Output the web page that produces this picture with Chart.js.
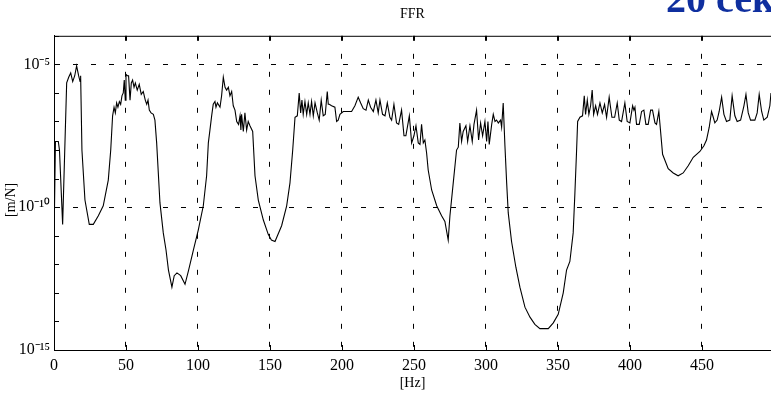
<!DOCTYPE html>
<html lang="en">

<head>
    <meta charset="UTF-8">
    <title>FRF</title>
    <script src="https://cdn.jsdelivr.net/npm/chart.js"></script>
    <style>
        body {
            margin: 0;
            background: #FFFFFF;
            overflow: hidden;
        }

        .holder {
            position: relative;
            width: 771px;
            height: 398px;
            overflow: hidden;
        }

        #stamp {
            position: absolute;
            left: 666px;
            top: -21px;
            font: bold 40px 'Liberation Serif', serif;
            line-height: 40px;
            color: #0F2F9F;
            white-space: nowrap;
        }
    </style>
</head>

<body>
    <div class="holder">
        <canvas id="frfChart" width="771" height="398"></canvas>
        <div id="stamp">20 сек</div>
    </div>

    <script>
        // frequency axis [Hz]
        const freqHz = [
            0.3, 1.0, 3.0, 3.8, 6.0, 8.8, 10.2, 11.6, 13.0, 14.4, 15.7, 17.1, 18.1, 18.5, 19.4, 21.5, 24.5, 27.3, 30.8, 34.2,
            37.7, 39.4, 40.7, 41.7, 42.6, 43.5, 44.4, 45.4, 46.3, 47.2, 48.1, 48.8, 49.5, 50.0, 50.9, 51.8, 52.8, 53.7, 54.6, 55.6,
            56.5, 57.8, 59.2, 60.6, 62.0, 63.4, 64.4, 65.3, 66.2, 67.4, 69.0, 70.1, 71.3, 73.6, 75.9, 77.8, 79.5, 81.9, 83.5, 85.4,
            88.0, 91.0, 93.5, 96.8, 100.2, 103.7, 106.0, 107.2, 108.3, 109.5, 110.6, 111.8, 112.5, 113.5, 115.3, 116.4, 117.6, 118.8, 119.9, 121.1,
            122.2, 123.4, 124.5, 125.7, 126.9, 128.2, 129.2, 129.8, 130.3, 131.5, 132.6, 133.8, 134.9, 136.1, 138.0, 139.6, 141.9, 145.4, 148.8, 151.0,
            153.5, 158.1, 161.6, 163.9, 165.8, 167.4, 169.0, 170.3, 171.3, 172.2, 173.1, 174.3, 175.5, 176.6, 177.8, 178.9, 180.1, 181.3, 182.9, 184.2,
            185.6, 187.0, 188.4, 189.8, 190.5, 191.2, 192.8, 195.1, 196.3, 197.4, 198.6, 200.9, 203.3, 206.7, 209.0, 211.3, 213.0, 214.8, 216.7, 218.3,
            219.9, 221.8, 223.6, 225.2, 226.4, 228.2, 229.9, 231.5, 233.3, 234.5, 236.1, 237.9, 239.4, 241.4, 243.1, 244.4, 246.8, 248.4, 250.0, 251.4,
            253.0, 254.2, 255.3, 256.5, 257.6, 258.8, 259.9, 262.3, 265.8, 269.2, 271.5, 273.8, 275.0, 277.3, 279.6, 280.8, 281.9, 283.1, 284.2, 286.1,
            287.3, 288.9, 290.5, 291.7, 293.5, 294.9, 296.3, 297.7, 299.3, 300.5, 301.4, 302.3, 304.0, 305.1, 306.3, 307.4, 308.6, 310.2, 310.9, 312.0,
            313.2, 314.4, 315.5, 317.8, 320.8, 323.6, 327.1, 330.6, 334.0, 337.5, 343.3, 346.8, 350.2, 353.7, 356.0, 358.3, 360.6, 361.8, 362.9, 363.7,
            365.3, 367.1, 368.3, 369.2, 370.4, 371.5, 372.7, 373.8, 374.8, 376.2, 377.5, 379.2, 380.8, 382.4, 383.8, 385.6, 387.5, 389.4, 391.2, 392.6,
            394.2, 396.5, 398.1, 400.0, 401.9, 402.8, 403.5, 404.6, 406.5, 408.1, 409.7, 411.1, 412.7, 414.4, 415.7, 417.4, 418.5, 420.1, 420.8, 422.7,
            426.6, 430.1, 433.5, 437.0, 440.5, 444.0, 448.6, 451.4, 453.2, 455.1, 456.7, 457.9, 459.0, 460.6, 462.0, 463.7, 465.3, 467.1, 469.4, 471.0,
            472.9, 474.5, 476.9, 479.2, 480.6, 482.2, 483.8, 486.8, 488.4, 489.8, 491.5, 493.0, 495.4, 497.2, 498.0
        ];

        // receptance magnitude [m/N]
        const respMN = [
            6.3e-11, 2.0e-8, 2.0e-8, 1e-8, 2.5e-11, 2.24e-6, 3.55e-6, 5.0e-6, 2.5e-6, 4.0e-6, 8.9e-6, 4.0e-6, 2.5e-6, 4.0e-6, 1e-8, 1.78e-10, 2.5e-11, 2.5e-11, 5.0e-11, 1.12e-10,
            8.9e-10, 1e-8, 1.58e-7, 3.16e-7, 2.0e-7, 4.47e-7, 3.16e-7, 5.0e-7, 4.0e-7, 7.9e-7, 1e-6, 2.82e-6, 5.6e-7, 4.47e-6, 4.0e-6, 4.0e-6, 5.6e-7, 2.24e-6, 2.82e-6, 1.58e-6,
            2.24e-6, 1.26e-6, 2.0e-6, 8.9e-7, 1.12e-6, 5.6e-7, 4.0e-7, 5.6e-7, 2.5e-7, 2.0e-7, 1.78e-7, 1.12e-7, 1.78e-8, 1.41e-10, 1.26e-11, 3.16e-12, 6.3e-13, 1.58e-13, 4.0e-13, 5.0e-13,
            4.0e-13, 2.0e-13, 6.3e-13, 3.16e-12, 1.58e-11, 1.12e-10, 1.26e-9, 1.78e-8, 5.0e-8, 1.58e-7, 4.0e-7, 5.0e-7, 3.16e-7, 4.47e-7, 3.16e-7, 7.9e-7, 3.55e-6, 1.58e-6, 1.26e-6, 1.58e-6,
            7.9e-7, 1.12e-6, 3.55e-7, 2.5e-7, 1e-7, 7.9e-8, 1.58e-7, 5.0e-8, 1.78e-7, 4.47e-8, 2.0e-7, 5.0e-8, 1e-7, 7.1e-8, 4.47e-8, 1.26e-9, 1.78e-10, 3.55e-11, 1.12e-11, 7.1e-12,
            6.3e-12, 2.24e-11, 1.12e-10, 7.1e-10, 1e-8, 1.41e-7, 1.58e-7, 1e-6, 2.0e-7, 5.6e-7, 1.78e-7, 5.0e-7, 1.78e-7, 4.47e-7, 1.78e-7, 5.0e-7, 1.58e-7, 4.47e-7, 2.0e-7, 1.12e-7,
            5.6e-7, 1.58e-7, 1.78e-7, 1.12e-6, 4.0e-7, 4.0e-7, 3.55e-7, 3.16e-7, 1e-7, 1.12e-7, 1.78e-7, 2.24e-7, 2.24e-7, 2.24e-7, 3.55e-7, 7.1e-7, 4.47e-7, 2.82e-7, 2.5e-7, 5.6e-7,
            3.16e-7, 2.24e-7, 5.6e-7, 2.0e-7, 5.6e-7, 1.78e-7, 1.58e-7, 4.47e-7, 1.41e-7, 1.12e-7, 4.0e-7, 8.9e-8, 7.9e-8, 2.5e-7, 3.16e-8, 3.16e-8, 1.58e-7, 1.78e-8, 3.16e-8, 7.1e-8,
            1.78e-8, 1.58e-8, 7.9e-8, 1.78e-8, 2.24e-8, 7.9e-9, 2.0e-9, 4.0e-10, 1.12e-10, 5.0e-11, 3.16e-11, 7.1e-12, 5.0e-11, 7.1e-10, 1e-8, 1.26e-8, 8.9e-8, 2.0e-8, 4.47e-8, 7.1e-8,
            2.0e-8, 7.1e-8, 2.0e-8, 7.9e-8, 2.5e-7, 2.24e-8, 8.9e-8, 3.16e-8, 1e-7, 2.0e-8, 1e-7, 1.58e-8, 7.9e-8, 1.78e-7, 1e-7, 1.12e-7, 8.9e-8, 1.12e-7, 6.3e-8, 4.47e-7,
            1.41e-8, 7.1e-10, 6.3e-11, 6.3e-12, 7.9e-13, 1.58e-13, 3.16e-14, 1.41e-14, 7.9e-15, 5.6e-15, 5.6e-15, 8.9e-15, 1.78e-14, 1e-13, 6.3e-13, 1.26e-12, 1.26e-11, 3.16e-10, 7.9e-9, 1e-7,
            1.41e-7, 1.58e-7, 7.9e-7, 1.78e-7, 5.6e-7, 1.78e-7, 3.55e-7, 1.26e-6, 1.78e-7, 3.55e-7, 1.78e-7, 4.47e-7, 2.0e-7, 4.0e-7, 1.41e-7, 7.1e-7, 1.41e-7, 1.41e-7, 4.47e-7, 1.12e-7,
            1e-7, 4.47e-7, 1e-7, 8.9e-8, 3.55e-7, 2.5e-7, 3.16e-7, 7.9e-8, 7.9e-8, 2.24e-7, 2.5e-7, 7.9e-8, 7.9e-8, 2.5e-7, 2.5e-7, 8.9e-8, 7.9e-8, 2.24e-7, 8.9e-8, 7.1e-9,
            2.24e-9, 1.58e-9, 1.26e-9, 1.58e-9, 2.82e-9, 5.6e-9, 8.9e-9, 1.41e-8, 2.24e-8, 6.3e-8, 2.24e-7, 1.41e-7, 8.9e-8, 1.12e-7, 2.24e-7, 7.1e-7, 1.78e-7, 1e-7, 1.12e-7, 7.9e-7,
            1.58e-7, 1e-7, 1.12e-7, 3.55e-7, 8.9e-7, 2.0e-7, 1.12e-7, 1.12e-7, 2.0e-7, 8.9e-7, 2.24e-7, 1.12e-7, 1.41e-7, 3.55e-7, 1e-6
        ];

        const xTicks = [0, 50, 100, 150, 200, 250, 300, 350, 400, 450];
        const yDecades = [1e-15, 1e-14, 1e-13, 1e-12, 1e-11, 1e-10, 1e-9, 1e-8, 1e-7, 1e-6, 1e-5, 1e-4];
        const yLabels = { '-5': '10⁻⁵', '-10': '10⁻¹⁰', '-15': '10⁻¹⁵' };

        const serif = "'Liberation Serif', 'Times New Roman', serif";
        const expOf = v => Math.round(Math.log10(v));

        // matlab style: inward ticks + top frame line
        const frameTicks = {
            id: 'frameTicks',
            afterDatasetsDraw(chart) {
                const { ctx, chartArea: a, scales: { x, y } } = chart;
                ctx.save();
                ctx.strokeStyle = '#000';
                ctx.lineWidth = 1;
                ctx.beginPath();
                ctx.moveTo(a.left, a.top + 0.5);
                ctx.lineTo(a.right, a.top + 0.5);
                yDecades.forEach(v => {
                    const py = Math.round(y.getPixelForValue(v)) + 0.5;
                    ctx.moveTo(a.left, py);
                    ctx.lineTo(a.left + 5, py);
                });
                xTicks.forEach(v => {
                    const px = Math.round(x.getPixelForValue(v)) + 0.5;
                    ctx.moveTo(px, a.bottom);
                    ctx.lineTo(px, a.bottom - 5);
                    ctx.moveTo(px, a.top);
                    ctx.lineTo(px, a.top + 5);
                });
                ctx.stroke();
                ctx.restore();
            }
        };

        const ctx = document.getElementById('frfChart');
        new Chart(ctx, {
            type: 'line',
            data: {
                datasets: [{
                    data: freqHz.map((f, i) => ({ x: f, y: respMN[i] })),
                    borderColor: '#000000',
                    borderWidth: 1.1,
                    pointRadius: 0,
                    tension: 0
                }]
            },
            options: {
                responsive: false,
                animation: false,
                layout: { padding: 0 },
                plugins: {
                    legend: { display: false },
                    tooltip: { enabled: false },
                    title: {
                        display: true,
                        text: 'FFR',
                        fullSize: false,
                        color: '#000',
                        font: { family: serif, size: 14, weight: 'normal' },
                        padding: { top: 6, bottom: 13 }
                    }
                },
                scales: {
                    x: {
                        type: 'linear',
                        min: 0,
                        max: 498,
                        afterBuildTicks: s => { s.ticks = xTicks.map(v => ({ value: v })); },
                        afterFit: s => { s.height = 48; },
                        ticks: {
                            color: '#000',
                            padding: 6,
                            maxRotation: 0,
                            font: { family: serif, size: 16 }
                        },
                        grid: {
                            drawTicks: false,
                            color: c => (c.tick && c.tick.value > 0) ? '#000' : 'rgba(0,0,0,0)',
                            lineWidth: 1
                        },
                        border: { display: true, color: '#000', width: 1, dash: [5, 13] },
                        title: {
                            display: true,
                            text: '[Hz]',
                            color: '#000',
                            font: { family: serif, size: 14 },
                            padding: { top: 0, bottom: 6 }
                        }
                    },
                    y: {
                        type: 'logarithmic',
                        min: 1e-15,
                        max: 1e-4,
                        afterBuildTicks: s => { s.ticks = yDecades.map(v => ({ value: v })); },
                        afterFit: s => { s.width = 54; },
                        ticks: {
                            color: '#000',
                            padding: 4,
                            autoSkip: false,
                            font: { family: serif, size: 16 },
                            callback: v => yLabels[String(expOf(v))] || ''
                        },
                        grid: {
                            drawTicks: false,
                            color: c => (c.tick && (expOf(c.tick.value) === -5 || expOf(c.tick.value) === -10)) ? '#000' : 'rgba(0,0,0,0)',
                            lineWidth: 1
                        },
                        border: { display: true, color: '#000', width: 1, dash: [5, 13] },
                        title: {
                            display: true,
                            text: '[m/N]    ',
                            color: '#000',
                            font: { family: serif, size: 14 },
                            padding: { top: 3, bottom: 0 }
                        }
                    }
                }
            },
            plugins: [frameTicks]
        });
    </script>
</body>

</html>
